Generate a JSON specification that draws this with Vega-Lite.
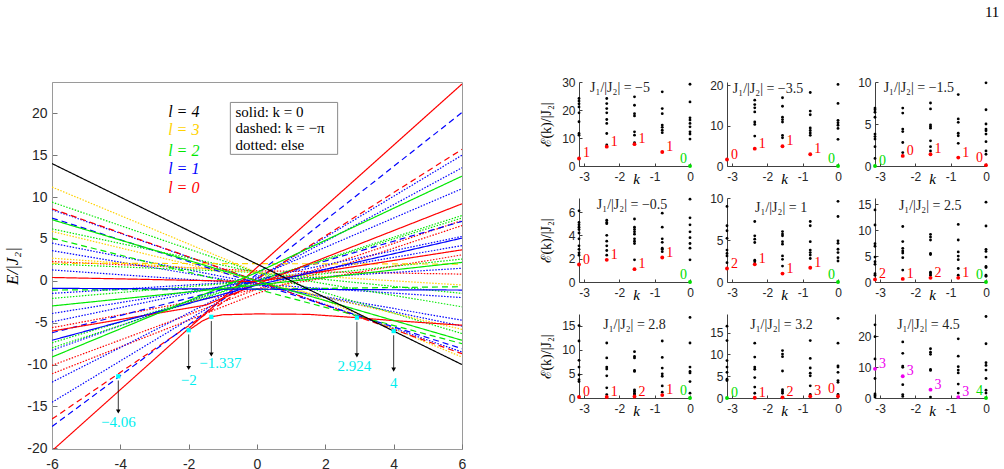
{
"$schema": "https://vega.github.io/schema/vega-lite/v6.json",
"padding": {"left": 2, "top": 5, "right": 0, "bottom": 0},
"title": {"text": "11", "anchor": "end", "frame": "bounds", "font": "Liberation Serif", "fontSize": 15, "fontWeight": "normal", "offset": 56, "dx": 10, "color": "#000000"},
"bounds": "flush",
"spacing": 117,
"resolve": {"scale": {"color": "independent"}},
"datasets": {
"lines": [
{"id":"d1","l":0,"s":"dotted","x":-6,"E":2.3},{"id":"d1","l":0,"s":"dotted","x":0,"E":1.2},{"id":"d1","l":0,"s":"dotted","x":6,"E":0.8},
{"id":"d2","l":0,"s":"dotted","x":-6,"E":-5.6},{"id":"d2","l":0,"s":"dotted","x":0,"E":-1},{"id":"d2","l":0,"s":"dotted","x":6,"E":3.1},
{"id":"d3","l":0,"s":"dotted","x":-6,"E":-10.1},{"id":"d3","l":0,"s":"dotted","x":0,"E":-1},{"id":"d3","l":0,"s":"dotted","x":6,"E":7.2},
{"id":"d4","l":0,"s":"dotted","x":-6,"E":-11.1},{"id":"d4","l":0,"s":"dotted","x":0,"E":-1.5},{"id":"d4","l":0,"s":"dotted","x":6,"E":6.6},
{"id":"d5","l":1,"s":"dotted","x":-6,"E":8.5},{"id":"d5","l":1,"s":"dotted","x":0,"E":0},{"id":"d5","l":1,"s":"dotted","x":6,"E":-8.5},
{"id":"d6","l":1,"s":"dotted","x":-6,"E":4.5},{"id":"d6","l":1,"s":"dotted","x":0,"E":-0.3},{"id":"d6","l":1,"s":"dotted","x":6,"E":-5.4},
{"id":"d7","l":1,"s":"dotted","x":-6,"E":3.6},{"id":"d7","l":1,"s":"dotted","x":0,"E":-0.5},{"id":"d7","l":1,"s":"dotted","x":6,"E":-4.7},
{"id":"d8","l":1,"s":"dotted","x":-6,"E":1.3},{"id":"d8","l":1,"s":"dotted","x":0,"E":-0.4},{"id":"d8","l":1,"s":"dotted","x":6,"E":-2.0},
{"id":"d9","l":1,"s":"dotted","x":-6,"E":-1.5},{"id":"d9","l":1,"s":"dotted","x":0,"E":0},{"id":"d9","l":1,"s":"dotted","x":6,"E":1.5},
{"id":"d10","l":1,"s":"dotted","x":-6,"E":-3.9},{"id":"d10","l":1,"s":"dotted","x":0,"E":0},{"id":"d10","l":1,"s":"dotted","x":6,"E":4.2},
{"id":"d11","l":1,"s":"dotted","x":-6,"E":-4.9},{"id":"d11","l":1,"s":"dotted","x":0,"E":0.2},{"id":"d11","l":1,"s":"dotted","x":6,"E":5.3},
{"id":"d12","l":1,"s":"dotted","x":-6,"E":-8.3},{"id":"d12","l":1,"s":"dotted","x":0,"E":0.5},{"id":"d12","l":1,"s":"dotted","x":6,"E":11.0},
{"id":"d13","l":1,"s":"dotted","x":-6,"E":-12.1},{"id":"d13","l":1,"s":"dotted","x":0,"E":0.3},{"id":"d13","l":1,"s":"dotted","x":6,"E":13.5},
{"id":"d14","l":1,"s":"dotted","x":-6,"E":-14.5},{"id":"d14","l":1,"s":"dotted","x":0,"E":0.3},{"id":"d14","l":1,"s":"dotted","x":6,"E":15.0},
{"id":"d15","l":2,"s":"dotted","x":-6,"E":9.4},{"id":"d15","l":2,"s":"dotted","x":0,"E":1},{"id":"d15","l":2,"s":"dotted","x":6,"E":-6.3},
{"id":"d16","l":2,"s":"dotted","x":-6,"E":6.2},{"id":"d16","l":2,"s":"dotted","x":0,"E":1},{"id":"d16","l":2,"s":"dotted","x":6,"E":-3.1},
{"id":"d17","l":2,"s":"dotted","x":-6,"E":2.0},{"id":"d17","l":2,"s":"dotted","x":0,"E":1},{"id":"d17","l":2,"s":"dotted","x":6,"E":-1.5},
{"id":"d18","l":2,"s":"dotted","x":-6,"E":-2.1},{"id":"d18","l":2,"s":"dotted","x":0,"E":0},{"id":"d18","l":2,"s":"dotted","x":6,"E":2.6},
{"id":"d19","l":2,"s":"dotted","x":-6,"E":-7.4},{"id":"d19","l":2,"s":"dotted","x":0,"E":0},{"id":"d19","l":2,"s":"dotted","x":6,"E":7.5},
{"id":"d20","l":2,"s":"dotted","x":-6,"E":-8.0},{"id":"d20","l":2,"s":"dotted","x":0,"E":0},{"id":"d20","l":2,"s":"dotted","x":6,"E":7.8},
{"id":"d21","l":3,"s":"dotted","x":-6,"E":11.2},{"id":"d21","l":3,"s":"dotted","x":0,"E":1},{"id":"d21","l":3,"s":"dotted","x":6,"E":-9.1},
{"id":"d22","l":3,"s":"dotted","x":-6,"E":5.9},{"id":"d22","l":3,"s":"dotted","x":0,"E":0},{"id":"d22","l":3,"s":"dotted","x":6,"E":-5.8},
{"id":"d23","l":3,"s":"dotted","x":-6,"E":2.7},{"id":"d23","l":3,"s":"dotted","x":0,"E":1},{"id":"d23","l":3,"s":"dotted","x":6,"E":-0.5},
{"id":"s1","l":0,"s":"dashed","x":-6,"E":8.6},{"id":"s1","l":0,"s":"dashed","x":0,"E":0},{"id":"s1","l":0,"s":"dashed","x":6,"E":-8.7},
{"id":"s2","l":0,"s":"dashed","x":-6,"E":-16.5},{"id":"s2","l":0,"s":"dashed","x":0,"E":0.2},{"id":"s2","l":0,"s":"dashed","x":6,"E":15.7},
{"id":"s3","l":1,"s":"dashed","x":-6,"E":7.5},{"id":"s3","l":1,"s":"dashed","x":0,"E":-0.3},{"id":"s3","l":1,"s":"dashed","x":6,"E":-8.1},
{"id":"s4","l":1,"s":"dashed","x":-6,"E":-17.4},{"id":"s4","l":1,"s":"dashed","x":0,"E":0.8},{"id":"s4","l":1,"s":"dashed","x":6,"E":20.1},
{"id":"s5","l":1,"s":"dashed","x":-6,"E":-6.2},{"id":"s5","l":1,"s":"dashed","x":0,"E":0},{"id":"s5","l":1,"s":"dashed","x":6,"E":7.1},
{"id":"s6","l":2,"s":"dashed","x":-6,"E":5.1},{"id":"s6","l":2,"s":"dashed","x":0,"E":-1},{"id":"s6","l":2,"s":"dashed","x":6,"E":-7.5},
{"id":"s7","l":2,"s":"dashed","x":-6,"E":-1.1},{"id":"s7","l":2,"s":"dashed","x":0,"E":-1.0},{"id":"s7","l":2,"s":"dashed","x":6,"E":-0.7},
{"id":"s8","l":3,"s":"dashed","x":-6,"E":2.1},{"id":"s8","l":3,"s":"dashed","x":6,"E":2.0},
{"id":"t1","l":0,"s":"solid","x":-6,"E":-20.3},{"id":"t1","l":0,"s":"solid","x":0,"E":1.6},{"id":"t1","l":0,"s":"solid","x":6,"E":23.5},
{"id":"t2","l":0,"s":"solid","x":-2,"E":-5.9},{"id":"t2","l":0,"s":"solid","x":-1.6,"E":-4.8},{"id":"t2","l":0,"s":"solid","x":-1.337,"E":-4.3},{"id":"t2","l":0,"s":"solid","x":-1,"E":-4.05},{"id":"t2","l":0,"s":"solid","x":0,"E":-3.95},{"id":"t2","l":0,"s":"solid","x":1.5,"E":-4.0},{"id":"t2","l":0,"s":"solid","x":2.924,"E":-4.4},{"id":"t2","l":0,"s":"solid","x":4,"E":-4.75},{"id":"t2","l":0,"s":"solid","x":6,"E":-5.3},
{"id":"t3","l":0,"s":"solid","x":-6,"E":0.4},{"id":"t3","l":0,"s":"solid","x":0,"E":-0.1},{"id":"t3","l":0,"s":"solid","x":6,"E":3.7},
{"id":"t4","l":0,"s":"solid","x":-6,"E":-6.0},{"id":"t4","l":0,"s":"solid","x":-1.5,"E":-2.9},{"id":"t4","l":0,"s":"solid","x":0,"E":-0.4},{"id":"t4","l":0,"s":"solid","x":6,"E":9.2},
{"id":"t5","l":1,"s":"solid","x":-6,"E":-0.9},{"id":"t5","l":1,"s":"solid","x":6,"E":-1.1},
{"id":"t6","l":1,"s":"solid","x":-6,"E":-7.1},{"id":"t6","l":1,"s":"solid","x":0,"E":-0.5},{"id":"t6","l":1,"s":"solid","x":6,"E":5.1},
{"id":"t7","l":2,"s":"solid","x":-6,"E":7.3},{"id":"t7","l":2,"s":"solid","x":0,"E":0},{"id":"t7","l":2,"s":"solid","x":6,"E":-7.1},
{"id":"t8","l":2,"s":"solid","x":-6,"E":-3.0},{"id":"t8","l":2,"s":"solid","x":0,"E":-0.5},{"id":"t8","l":2,"s":"solid","x":6,"E":2.2},
{"id":"t9","l":2,"s":"solid","x":-6,"E":-9.1},{"id":"t9","l":2,"s":"solid","x":0,"E":1},{"id":"t9","l":2,"s":"solid","x":6,"E":12.5},
{"id":"t10","l":4,"s":"solid","x":-6,"E":14},{"id":"t10","l":4,"s":"solid","x":6,"E":-10}
],
"mk": [{"x":-4.06,"E":-11.4},{"x":-2,"E":-5.9},{"x":-1.337,"E":-4.3},{"x":2.924,"E":-4.4},{"x":4,"E":-6.0}],
"arr": [{"x":-4.06,"E":-11.9,"E2":-15.6},{"x":-2,"E":-6.4,"E2":-10.4},{"x":-1.337,"E":-4.8,"E2":-8.8},{"x":2.924,"E":-4.9,"E2":-8.9},{"x":4,"E":-6.5,"E2":-10.6}],
"alab": [{"x":-4.06,"E":-16.9,"t":"−4.06"},{"x":-2,"E":-11.8,"t":"−2"},{"x":-1.07,"E":-9.8,"t":"−1.337"},{"x":2.85,"E":-10.2,"t":"2.924"},{"x":4,"E":-12.2,"t":"4"}],
"leg": [{"x":-2.6,"E":20.2,"t":"l = 4","l":4},{"x":-2.6,"E":18.0,"t":"l = 3","l":3},{"x":-2.6,"E":15.5,"t":"l = 2","l":2},{"x":-2.6,"E":13.3,"t":"l = 1","l":1},{"x":-2.6,"E":11.1,"t":"l = 0","l":0}],
"box": [{"x":-0.78,"x2":2.36,"E":15.1,"E2":21.3}],
"btxt": [{"x":-0.63,"E":20.2,"t":"solid:  k = 0"},{"x":-0.63,"E":18.2,"t":"dashed:  k = −π"},{"x":-0.63,"E":16.2,"t":"dotted:  else"}],
"ttl": [
{"p":1,"k":-1.98,"E":27.9,"t":"J₁/|J₂| = −5"},
{"p":2,"k":-1.98,"E":19.1,"t":"J₁/|J₂| = −3.5"},
{"p":3,"k":-1.9,"E":9.3,"t":"J₁/|J₂| = −1.5"},
{"p":4,"k":-1.64,"E":6.6,"t":"J₁/|J₂| = −0.5"},
{"p":5,"k":-1.61,"E":8.8,"t":"J₁/|J₂| = 1"},
{"p":6,"k":-1.58,"E":14.7,"t":"J₁/|J₂| = 2.5"},
{"p":7,"k":-1.57,"E":15.1,"t":"J₁/|J₂| = 2.8"},
{"p":8,"k":-1.6,"E":16.8,"t":"J₁/|J₂| = 3.2"},
{"p":9,"k":-1.63,"E":23.5,"t":"J₁/|J₂| = 4.5"}
],
"pts": [
{"p":1,"k":-3.1416,"E":24.1},{"p":1,"k":-3.1416,"E":23.2},{"p":1,"k":-3.1416,"E":22.2},{"p":1,"k":-3.1416,"E":21.1},{"p":1,"k":-3.1416,"E":19.0},{"p":1,"k":-3.1416,"E":15.8},{"p":1,"k":-3.1416,"E":11.6},{"p":1,"k":-3.1416,"E":11.0},{"p":1,"k":-3.1416,"E":2.7,"c":"r","lab":"1"},
{"p":1,"k":-2.3562,"E":24.1},{"p":1,"k":-2.3562,"E":22.3},{"p":1,"k":-2.3562,"E":20.5},{"p":1,"k":-2.3562,"E":19.0},{"p":1,"k":-2.3562,"E":16.6},{"p":1,"k":-2.3562,"E":15.2},{"p":1,"k":-2.3562,"E":11.6},{"p":1,"k":-2.3562,"E":7.5},{"p":1,"k":-2.3562,"E":6.9,"c":"r","lab":"1"},
{"p":1,"k":-1.5708,"E":24.7},{"p":1,"k":-1.5708,"E":21.7},{"p":1,"k":-1.5708,"E":18.7},{"p":1,"k":-1.5708,"E":17.9},{"p":1,"k":-1.5708,"E":12.2},{"p":1,"k":-1.5708,"E":11.0},{"p":1,"k":-1.5708,"E":8.3},{"p":1,"k":-1.5708,"E":7.8,"c":"r","lab":"1"},
{"p":1,"k":-0.7854,"E":26.5},{"p":1,"k":-0.7854,"E":20.5},{"p":1,"k":-0.7854,"E":18.7},{"p":1,"k":-0.7854,"E":14.6},{"p":1,"k":-0.7854,"E":13.8},{"p":1,"k":-0.7854,"E":12.8},{"p":1,"k":-0.7854,"E":11.9},{"p":1,"k":-0.7854,"E":5.0,"c":"r","lab":"1"},
{"p":1,"k":0,"E":29.2},{"p":1,"k":0,"E":22.9},{"p":1,"k":0,"E":17.2},{"p":1,"k":0,"E":16.4},{"p":1,"k":0,"E":15.2},{"p":1,"k":0,"E":14.0},{"p":1,"k":0,"E":12.2},{"p":1,"k":0,"E":11.4},{"p":1,"k":0,"E":9.6},{"p":1,"k":0,"E":0,"c":"g","lab":"0"},
{"p":2,"k":-3.1416,"E":1.6,"c":"r","lab":"0"},
{"p":2,"k":-2.3562,"E":16.3},{"p":2,"k":-2.3562,"E":15.2},{"p":2,"k":-2.3562,"E":14.4},{"p":2,"k":-2.3562,"E":13.4},{"p":2,"k":-2.3562,"E":10.9},{"p":2,"k":-2.3562,"E":10.3},{"p":2,"k":-2.3562,"E":7.4},{"p":2,"k":-2.3562,"E":4.3,"c":"r","lab":"1"},
{"p":2,"k":-1.5708,"E":16.9},{"p":2,"k":-1.5708,"E":14.8},{"p":2,"k":-1.5708,"E":12.1},{"p":2,"k":-1.5708,"E":11.5},{"p":2,"k":-1.5708,"E":10.9},{"p":2,"k":-1.5708,"E":7.6},{"p":2,"k":-1.5708,"E":7.0},{"p":2,"k":-1.5708,"E":4.9,"c":"r","lab":"1"},
{"p":2,"k":-0.7854,"E":18.2},{"p":2,"k":-0.7854,"E":13.6},{"p":2,"k":-0.7854,"E":12.7},{"p":2,"k":-0.7854,"E":9.4},{"p":2,"k":-0.7854,"E":8.8},{"p":2,"k":-0.7854,"E":8.2},{"p":2,"k":-0.7854,"E":7.6},{"p":2,"k":-0.7854,"E":2.9,"c":"r","lab":"1"},
{"p":2,"k":0,"E":20.2},{"p":2,"k":0,"E":15.5},{"p":2,"k":0,"E":11.3},{"p":2,"k":0,"E":10.7},{"p":2,"k":0,"E":10.1},{"p":2,"k":0,"E":9.3},{"p":2,"k":0,"E":6.6},{"p":2,"k":0,"E":0,"c":"g","lab":"0"},
{"p":3,"k":-3.1416,"E":6.9},{"p":3,"k":-3.1416,"E":6.7},{"p":3,"k":-3.1416,"E":6.4},{"p":3,"k":-3.1416,"E":5.8},{"p":3,"k":-3.1416,"E":3.8},{"p":3,"k":-3.1416,"E":3.5},{"p":3,"k":-3.1416,"E":3.2},{"p":3,"k":-3.1416,"E":2.3},{"p":3,"k":-3.1416,"E":0.9},{"p":3,"k":-3.1416,"E":0,"c":"g","lab":"0"},
{"p":3,"k":-2.3562,"E":6.9},{"p":3,"k":-2.3562,"E":6.3},{"p":3,"k":-2.3562,"E":4.4},{"p":3,"k":-2.3562,"E":4.1},{"p":3,"k":-2.3562,"E":2.8},{"p":3,"k":-2.3562,"E":1.6},{"p":3,"k":-2.3562,"E":1.2,"c":"r","lab":"0"},
{"p":3,"k":-1.5708,"E":7.5},{"p":3,"k":-1.5708,"E":6.8},{"p":3,"k":-1.5708,"E":4.9},{"p":3,"k":-1.5708,"E":4.7},{"p":3,"k":-1.5708,"E":4.5},{"p":3,"k":-1.5708,"E":3.0},{"p":3,"k":-1.5708,"E":2.3},{"p":3,"k":-1.5708,"E":1.8},{"p":3,"k":-1.5708,"E":1.4,"c":"r","lab":"1"},
{"p":3,"k":-0.7854,"E":8.5},{"p":3,"k":-0.7854,"E":5.6},{"p":3,"k":-0.7854,"E":5.2},{"p":3,"k":-0.7854,"E":3.9},{"p":3,"k":-0.7854,"E":3.6},{"p":3,"k":-0.7854,"E":2.7},{"p":3,"k":-0.7854,"E":1.0,"c":"r","lab":"1"},
{"p":3,"k":0,"E":9.9},{"p":3,"k":0,"E":6.7},{"p":3,"k":0,"E":5.0},{"p":3,"k":0,"E":4.4},{"p":3,"k":0,"E":4.2},{"p":3,"k":0,"E":3.8},{"p":3,"k":0,"E":2.9},{"p":3,"k":0,"E":1.8},{"p":3,"k":0,"E":1.4},{"p":3,"k":0,"E":0.1,"c":"r","lab":"0"},
{"p":4,"k":-3.1416,"E":6.1},{"p":4,"k":-3.1416,"E":5.1},{"p":4,"k":-3.1416,"E":4.9},{"p":4,"k":-3.1416,"E":4.7},{"p":4,"k":-3.1416,"E":4.5},{"p":4,"k":-3.1416,"E":4.2},{"p":4,"k":-3.1416,"E":3.7},{"p":4,"k":-3.1416,"E":3.1},{"p":4,"k":-3.1416,"E":2.8},{"p":4,"k":-3.1416,"E":2.5},{"p":4,"k":-3.1416,"E":2.3},{"p":4,"k":-3.1416,"E":1.5,"c":"r","lab":"0"},
{"p":4,"k":-2.3562,"E":5.3},{"p":4,"k":-2.3562,"E":5.1},{"p":4,"k":-2.3562,"E":5.0},{"p":4,"k":-2.3562,"E":4.0},{"p":4,"k":-2.3562,"E":3.5},{"p":4,"k":-2.3562,"E":3.1},{"p":4,"k":-2.3562,"E":2.7},{"p":4,"k":-2.3562,"E":2.3},{"p":4,"k":-2.3562,"E":1.9,"c":"r","lab":"1"},
{"p":4,"k":-1.5708,"E":5.4},{"p":4,"k":-1.5708,"E":4.7},{"p":4,"k":-1.5708,"E":4.5},{"p":4,"k":-1.5708,"E":4.3},{"p":4,"k":-1.5708,"E":4.1},{"p":4,"k":-1.5708,"E":3.7},{"p":4,"k":-1.5708,"E":3.5},{"p":4,"k":-1.5708,"E":3.3},{"p":4,"k":-1.5708,"E":1.9},{"p":4,"k":-1.5708,"E":1.1,"c":"r","lab":"1"},
{"p":4,"k":-0.7854,"E":5.9},{"p":4,"k":-0.7854,"E":4.7},{"p":4,"k":-0.7854,"E":3.7},{"p":4,"k":-0.7854,"E":3.4},{"p":4,"k":-0.7854,"E":2.9},{"p":4,"k":-0.7854,"E":2.8},{"p":4,"k":-0.7854,"E":2.6},{"p":4,"k":-0.7854,"E":2.1,"c":"r","lab":"1"},
{"p":4,"k":0,"E":7.1},{"p":4,"k":0,"E":5.5},{"p":4,"k":0,"E":4.9},{"p":4,"k":0,"E":4.3},{"p":4,"k":0,"E":3.8},{"p":4,"k":0,"E":3.3},{"p":4,"k":0,"E":2.9},{"p":4,"k":0,"E":1.9},{"p":4,"k":0,"E":0,"c":"g","lab":"0"},
{"p":5,"k":-3.1416,"E":9.0},{"p":5,"k":-3.1416,"E":6.7},{"p":5,"k":-3.1416,"E":6.1},{"p":5,"k":-3.1416,"E":5.2},{"p":5,"k":-3.1416,"E":3.8},{"p":5,"k":-3.1416,"E":3.4},{"p":5,"k":-3.1416,"E":3.1},{"p":5,"k":-3.1416,"E":2.3},{"p":5,"k":-3.1416,"E":1.6,"c":"r","lab":"2"},
{"p":5,"k":-2.3562,"E":7.2},{"p":5,"k":-2.3562,"E":5.5},{"p":5,"k":-2.3562,"E":5.1},{"p":5,"k":-2.3562,"E":4.7},{"p":5,"k":-2.3562,"E":2.6},{"p":5,"k":-2.3562,"E":2.4},{"p":5,"k":-2.3562,"E":2.1,"c":"r","lab":"1"},
{"p":5,"k":-1.5708,"E":6.0},{"p":5,"k":-1.5708,"E":5.7},{"p":5,"k":-1.5708,"E":5.5},{"p":5,"k":-1.5708,"E":4.8},{"p":5,"k":-1.5708,"E":4.5},{"p":5,"k":-1.5708,"E":3.1},{"p":5,"k":-1.5708,"E":2.7},{"p":5,"k":-1.5708,"E":1.9},{"p":5,"k":-1.5708,"E":1.0,"c":"r","lab":"1"},
{"p":5,"k":-0.7854,"E":7.2},{"p":5,"k":-0.7854,"E":6.7},{"p":5,"k":-0.7854,"E":4.8},{"p":5,"k":-0.7854,"E":3.8},{"p":5,"k":-0.7854,"E":3.5},{"p":5,"k":-0.7854,"E":3.2},{"p":5,"k":-0.7854,"E":2.8},{"p":5,"k":-0.7854,"E":1.7,"c":"r","lab":"1"},
{"p":5,"k":0,"E":9.6},{"p":5,"k":0,"E":7.8},{"p":5,"k":0,"E":4.9},{"p":5,"k":0,"E":4.6},{"p":5,"k":0,"E":3.9},{"p":5,"k":0,"E":3.5},{"p":5,"k":0,"E":2.9},{"p":5,"k":0,"E":2.5},{"p":5,"k":0,"E":0,"c":"g","lab":"0"},
{"p":6,"k":-3.1416,"E":13.9},{"p":6,"k":-3.1416,"E":11.0},{"p":6,"k":-3.1416,"E":7.4},{"p":6,"k":-3.1416,"E":6.9},{"p":6,"k":-3.1416,"E":4.8},{"p":6,"k":-3.1416,"E":3.9},{"p":6,"k":-3.1416,"E":3.4},{"p":6,"k":-3.1416,"E":1.6},{"p":6,"k":-3.1416,"E":1.3},{"p":6,"k":-3.1416,"E":0.5,"c":"r","lab":"2"},
{"p":6,"k":-2.3562,"E":10.7},{"p":6,"k":-2.3562,"E":7.8},{"p":6,"k":-2.3562,"E":6.5},{"p":6,"k":-2.3562,"E":6.0},{"p":6,"k":-2.3562,"E":5.6},{"p":6,"k":-2.3562,"E":4.7},{"p":6,"k":-2.3562,"E":2.3},{"p":6,"k":-2.3562,"E":0.6,"c":"r","lab":"1"},
{"p":6,"k":-1.5708,"E":9.2},{"p":6,"k":-1.5708,"E":8.7},{"p":6,"k":-1.5708,"E":8.1},{"p":6,"k":-1.5708,"E":5.5},{"p":6,"k":-1.5708,"E":5.3},{"p":6,"k":-1.5708,"E":1.9},{"p":6,"k":-1.5708,"E":1.6},{"p":6,"k":-1.5708,"E":1.3},{"p":6,"k":-1.5708,"E":0.8,"c":"r","lab":"2"},
{"p":6,"k":-0.7854,"E":11.1},{"p":6,"k":-0.7854,"E":8.1},{"p":6,"k":-0.7854,"E":5.8},{"p":6,"k":-0.7854,"E":5.0},{"p":6,"k":-0.7854,"E":4.3},{"p":6,"k":-0.7854,"E":2.6},{"p":6,"k":-0.7854,"E":1.3},{"p":6,"k":-0.7854,"E":0.8,"c":"r","lab":"1"},
{"p":6,"k":0,"E":15.4},{"p":6,"k":0,"E":10.8},{"p":6,"k":0,"E":6.3},{"p":6,"k":0,"E":5.9},{"p":6,"k":0,"E":4.8},{"p":6,"k":0,"E":3.0},{"p":6,"k":0,"E":2.8},{"p":6,"k":0,"E":1.3},{"p":6,"k":0,"E":1.1},{"p":6,"k":0,"E":0,"c":"g","lab":"0"},
{"p":7,"k":-3.1416,"E":15.0},{"p":7,"k":-3.1416,"E":11.8},{"p":7,"k":-3.1416,"E":7.8},{"p":7,"k":-3.1416,"E":6.4},{"p":7,"k":-3.1416,"E":4.8},{"p":7,"k":-3.1416,"E":3.8},{"p":7,"k":-3.1416,"E":3.4},{"p":7,"k":-3.1416,"E":0.2,"c":"r","lab":"0"},
{"p":7,"k":-2.3562,"E":11.4},{"p":7,"k":-2.3562,"E":8.3},{"p":7,"k":-2.3562,"E":6.4},{"p":7,"k":-2.3562,"E":6.0},{"p":7,"k":-2.3562,"E":4.6},{"p":7,"k":-2.3562,"E":2.1},{"p":7,"k":-2.3562,"E":0.7},{"p":7,"k":-2.3562,"E":0.2,"c":"r","lab":"1"},
{"p":7,"k":-1.5708,"E":9.6},{"p":7,"k":-1.5708,"E":8.6},{"p":7,"k":-1.5708,"E":8.3},{"p":7,"k":-1.5708,"E":5.7},{"p":7,"k":-1.5708,"E":5.5},{"p":7,"k":-1.5708,"E":1.7},{"p":7,"k":-1.5708,"E":1.4},{"p":7,"k":-1.5708,"E":1.0},{"p":7,"k":-1.5708,"E":0.7},{"p":7,"k":-1.5708,"E":0.3,"c":"r","lab":"2"},
{"p":7,"k":-0.7854,"E":11.8},{"p":7,"k":-0.7854,"E":8.4},{"p":7,"k":-0.7854,"E":6.2},{"p":7,"k":-0.7854,"E":5.0},{"p":7,"k":-0.7854,"E":4.5},{"p":7,"k":-0.7854,"E":2.5},{"p":7,"k":-0.7854,"E":1.2},{"p":7,"k":-0.7854,"E":0.6,"c":"r","lab":"1"},
{"p":7,"k":0,"E":16.7},{"p":7,"k":0,"E":11.4},{"p":7,"k":0,"E":6.4},{"p":7,"k":0,"E":5.5},{"p":7,"k":0,"E":5.2},{"p":7,"k":0,"E":3.4},{"p":7,"k":0,"E":1.0},{"p":7,"k":0,"E":0,"c":"g","lab":"0"},
{"p":8,"k":-3.1416,"E":16.5},{"p":8,"k":-3.1416,"E":13.2},{"p":8,"k":-3.1416,"E":8.6},{"p":8,"k":-3.1416,"E":7.1},{"p":8,"k":-3.1416,"E":5.9},{"p":8,"k":-3.1416,"E":4.3},{"p":8,"k":-3.1416,"E":4.0},{"p":8,"k":-3.1416,"E":0,"c":"g","lab":"0"},
{"p":8,"k":-2.3562,"E":12.6},{"p":8,"k":-2.3562,"E":9.4},{"p":8,"k":-2.3562,"E":7.1},{"p":8,"k":-2.3562,"E":6.6},{"p":8,"k":-2.3562,"E":4.7},{"p":8,"k":-2.3562,"E":2.5},{"p":8,"k":-2.3562,"E":1.1},{"p":8,"k":-2.3562,"E":0.05,"c":"r","lab":"1"},
{"p":8,"k":-1.5708,"E":10.9},{"p":8,"k":-1.5708,"E":10.1},{"p":8,"k":-1.5708,"E":9.5},{"p":8,"k":-1.5708,"E":6.2},{"p":8,"k":-1.5708,"E":1.9},{"p":8,"k":-1.5708,"E":1.5},{"p":8,"k":-1.5708,"E":1.1},{"p":8,"k":-1.5708,"E":0.15,"c":"r","lab":"2"},
{"p":8,"k":-0.7854,"E":13.2},{"p":8,"k":-0.7854,"E":9.1},{"p":8,"k":-0.7854,"E":6.9},{"p":8,"k":-0.7854,"E":5.7},{"p":8,"k":-0.7854,"E":5.1},{"p":8,"k":-0.7854,"E":2.8},{"p":8,"k":-0.7854,"E":0.8},{"p":8,"k":-0.7854,"E":0.4,"c":"r","lab":"3"},
{"p":8,"k":0,"E":18.3},{"p":8,"k":0,"E":12.6},{"p":8,"k":0,"E":7.4},{"p":8,"k":0,"E":7.1},{"p":8,"k":0,"E":5.9},{"p":8,"k":0,"E":4.0},{"p":8,"k":0,"E":3.6},{"p":8,"k":0,"E":0.8},{"p":8,"k":0,"E":0.4,"c":"r","lab":"0"},
{"p":9,"k":-3.1416,"E":23.6},{"p":9,"k":-3.1416,"E":19.8},{"p":9,"k":-3.1416,"E":12.6},{"p":9,"k":-3.1416,"E":6.3},{"p":9,"k":-3.1416,"E":1.3},{"p":9,"k":-3.1416,"E":0.8},{"p":9,"k":-3.1416,"E":0.3},{"p":9,"k":-3.1416,"E":9.4,"c":"m","lab":"3"},
{"p":9,"k":-2.3562,"E":18.1},{"p":9,"k":-2.3562,"E":14.4},{"p":9,"k":-2.3562,"E":10.3},{"p":9,"k":-2.3562,"E":9.9},{"p":9,"k":-2.3562,"E":4.3},{"p":9,"k":-2.3562,"E":1.1},{"p":9,"k":-2.3562,"E":0.5},{"p":9,"k":-2.3562,"E":7.0,"c":"m","lab":"3"},
{"p":9,"k":-1.5708,"E":15.9},{"p":9,"k":-1.5708,"E":14.8},{"p":9,"k":-1.5708,"E":14.1},{"p":9,"k":-1.5708,"E":9.2},{"p":9,"k":-1.5708,"E":8.9},{"p":9,"k":-1.5708,"E":0.3},{"p":9,"k":-1.5708,"E":2.7,"c":"m","lab":"3"},
{"p":9,"k":-0.7854,"E":19.1},{"p":9,"k":-0.7854,"E":13.5},{"p":9,"k":-0.7854,"E":10.1},{"p":9,"k":-0.7854,"E":9.0},{"p":9,"k":-0.7854,"E":8.1},{"p":9,"k":-0.7854,"E":4.5},{"p":9,"k":-0.7854,"E":1.6},{"p":9,"k":-0.7854,"E":0.3,"c":"m","lab":"3"},
{"p":9,"k":0,"E":26.3},{"p":9,"k":0,"E":17.5},{"p":9,"k":0,"E":11.4},{"p":9,"k":0,"E":10.5},{"p":9,"k":0,"E":9.0},{"p":9,"k":0,"E":6.3},{"p":9,"k":0,"E":2.5},{"p":9,"k":0,"E":1.6},{"p":9,"k":0,"E":0,"c":"g","lab":"4"}
]
},
"hconcat": [
{
"width": 410, "height": 367,
"view": {"stroke": "#9a9a9a", "strokeWidth": 1},
"encoding": {
"x": {"field": "x", "type": "quantitative", "scale": {"domain": [-6, 6], "nice": false, "zero": false},
 "axis": {"values": [-6,-4,-2,0,2,4,6], "title": null, "tickSize": -5, "labelPadding": 13, "labelFontSize": 14, "domainColor": "#9a9a9a", "tickColor": "#777777"}},
"y": {"field": "E", "type": "quantitative", "scale": {"domain": [-20.08, 23.74], "nice": false, "zero": false},
 "axis": {"values": [-20,-15,-10,-5,0,5,10,15,20], "title": "E/|J₂|", "tickSize": -5, "labelPadding": 10, "labelFontSize": 14, "minExtent": 26, "maxExtent": 26, "titlePadding": 5, "titleFontSize": 17, "titleFontStyle": "italic", "domainColor": "#9a9a9a", "tickColor": "#777777"}}
},
"layer": [
{"data": {"name": "lines"}, "mark": {"type": "line", "strokeWidth": 1.2, "clip": true},
 "encoding": {
  "color": {"field": "l", "type": "nominal", "scale": {"domain": [0,1,2,3,4], "range": ["#ff0000","#0000ff","#00e800","#ffd200","#000000"]}, "legend": null},
  "strokeDash": {"field": "s", "type": "nominal", "scale": {"domain": ["solid","dashed","dotted"], "range": [[1,0],[6,4],[1.5,1.5]]}, "legend": null},
  "opacity": {"field": "s", "type": "nominal", "scale": {"domain": ["solid","dashed","dotted"], "range": [1,1,0.6]}, "legend": null},
  "detail": {"field": "id", "type": "nominal"},
  "order": {"field": "x", "type": "quantitative"}}},
{"data": {"name": "arr"}, "mark": {"type": "rule", "color": "#000000", "strokeWidth": 0.8}, "encoding": {"y2": {"field": "E2"}}},
{"data": {"name": "arr"}, "mark": {"type": "point", "shape": "triangle-down", "filled": true, "color": "#000000", "size": 22, "opacity": 1}, "encoding": {"y": {"field": "E2", "type": "quantitative"}}},
{"data": {"name": "mk"}, "mark": {"type": "square", "color": "#00ffff", "size": 18, "opacity": 1}},
{"data": {"name": "alab"}, "mark": {"type": "text", "font": "Liberation Serif", "fontSize": 15, "color": "#00eeee", "align": "center", "baseline": "middle"}, "encoding": {"text": {"field": "t"}}},
{"data": {"name": "leg"}, "mark": {"type": "text", "font": "Liberation Serif", "fontSize": 16, "fontStyle": "italic", "align": "left", "baseline": "middle"}, "encoding": {"text": {"field": "t"}, "color": {"field": "l", "type": "nominal", "legend": null}}},
{"data": {"name": "box"}, "mark": {"type": "rect", "fill": "#ffffff", "stroke": "#8a8a8a", "strokeWidth": 1}, "encoding": {"x2": {"field": "x2"}, "y2": {"field": "E2"}}},
{"data": {"name": "btxt"}, "mark": {"type": "text", "font": "Liberation Serif", "fontSize": 15, "align": "left", "baseline": "middle", "color": "#000000"}, "encoding": {"text": {"field": "t"}}}
]
},
{
"columns": 3,
"spacing": {"row": 32, "column": 37},
"bounds": "flush",
"concat": [
{"width":111,"height":84,"data":{"name":"pts"},
"encoding":{"x":{"field":"k","type":"quantitative","scale":{"domain":[-3.1416,0],"nice":false,"zero":false},"axis":{"values":[-3,-2,-1,0],"title":"k","titleX":57,"titleY":12,"titleBaseline":"middle","titleFontStyle":"italic","titleFontSize":15,"labelPadding":8}},
"y":{"field":"E","type":"quantitative","scale":{"domain":[0,30],"nice":false,"zero":false},"axis":{"values":[0,10,20,30],"title":"ℰ(k)/|J₂|"}},
"color":{"field":"c","type":"nominal","scale":{"domain":["r","g","m"],"range":["#ff0000","#00dd00","#ee00ee"]},"legend":null}},
"layer":[
{"transform":[{"filter":"datum.p==1 && !datum.c"}],"mark":{"type":"circle","size":8,"color":"#000000","opacity":1},"encoding":{"color":{"value":"#000000"}}},
{"transform":[{"filter":"datum.p==1 && datum.c"}],"mark":{"type":"circle","size":15,"opacity":1}},
{"transform":[{"filter":"datum.p==1 && datum.c && datum.k<0"}],"mark":{"type":"text","align":"left","baseline":"middle","dx":4,"dy":-5,"font":"Liberation Serif","fontSize":14},"encoding":{"text":{"field":"lab"}}},
{"transform":[{"filter":"datum.p==1 && datum.c && datum.k==0"}],"mark":{"type":"text","align":"right","baseline":"middle","dx":-3,"dy":-7,"font":"Liberation Serif","fontSize":14},"encoding":{"text":{"field":"lab"}}},
{"data":{"name":"ttl"},"transform":[{"filter":"datum.p==1"}],"mark":{"type":"text","align":"center","baseline":"middle","font":"Liberation Serif","fontSize":14},"encoding":{"text":{"field":"t"},"color":{"value":"#222222"}}}
]},
{"width":111,"height":84,"data":{"name":"pts"},
"encoding":{"x":{"field":"k","type":"quantitative","scale":{"domain":[-3.1416,0],"nice":false,"zero":false},"axis":{"values":[-3,-2,-1,0],"title":"k","titleX":57,"titleY":12,"titleBaseline":"middle","titleFontStyle":"italic","titleFontSize":15,"labelPadding":8}},
"y":{"field":"E","type":"quantitative","scale":{"domain":[0,20.8],"nice":false,"zero":false},"axis":{"values":[0,10,20],"title":null}},
"color":{"field":"c","type":"nominal","scale":{"domain":["r","g","m"],"range":["#ff0000","#00dd00","#ee00ee"]},"legend":null}},
"layer":[
{"transform":[{"filter":"datum.p==2 && !datum.c"}],"mark":{"type":"circle","size":8,"opacity":1},"encoding":{"color":{"value":"#000000"}}},
{"transform":[{"filter":"datum.p==2 && datum.c"}],"mark":{"type":"circle","size":15,"opacity":1}},
{"transform":[{"filter":"datum.p==2 && datum.c && datum.k<0"}],"mark":{"type":"text","align":"left","baseline":"middle","dx":4,"dy":-5,"font":"Liberation Serif","fontSize":14},"encoding":{"text":{"field":"lab"}}},
{"transform":[{"filter":"datum.p==2 && datum.c && datum.k==0"}],"mark":{"type":"text","align":"right","baseline":"middle","dx":-3,"dy":-7,"font":"Liberation Serif","fontSize":14},"encoding":{"text":{"field":"lab"}}},
{"data":{"name":"ttl"},"transform":[{"filter":"datum.p==2"}],"mark":{"type":"text","align":"center","baseline":"middle","font":"Liberation Serif","fontSize":14},"encoding":{"text":{"field":"t"},"color":{"value":"#222222"}}}
]},
{"width":111,"height":84,"data":{"name":"pts"},
"encoding":{"x":{"field":"k","type":"quantitative","scale":{"domain":[-3.1416,0],"nice":false,"zero":false},"axis":{"values":[-3,-2,-1,0],"title":"k","titleX":57,"titleY":12,"titleBaseline":"middle","titleFontStyle":"italic","titleFontSize":15,"labelPadding":8}},
"y":{"field":"E","type":"quantitative","scale":{"domain":[0,10],"nice":false,"zero":false},"axis":{"values":[0,5,10],"title":null}},
"color":{"field":"c","type":"nominal","scale":{"domain":["r","g","m"],"range":["#ff0000","#00dd00","#ee00ee"]},"legend":null}},
"layer":[
{"transform":[{"filter":"datum.p==3 && !datum.c"}],"mark":{"type":"circle","size":8,"opacity":1},"encoding":{"color":{"value":"#000000"}}},
{"transform":[{"filter":"datum.p==3 && datum.c"}],"mark":{"type":"circle","size":15,"opacity":1}},
{"transform":[{"filter":"datum.p==3 && datum.c && datum.k<0"}],"mark":{"type":"text","align":"left","baseline":"middle","dx":4,"dy":-5,"font":"Liberation Serif","fontSize":14},"encoding":{"text":{"field":"lab"}}},
{"transform":[{"filter":"datum.p==3 && datum.c && datum.k==0"}],"mark":{"type":"text","align":"right","baseline":"middle","dx":-3,"dy":-7,"font":"Liberation Serif","fontSize":14},"encoding":{"text":{"field":"lab"}}},
{"data":{"name":"ttl"},"transform":[{"filter":"datum.p==3"}],"mark":{"type":"text","align":"center","baseline":"middle","font":"Liberation Serif","fontSize":14},"encoding":{"text":{"field":"t"},"color":{"value":"#222222"}}}
]},
{"width":111,"height":84,"data":{"name":"pts"},
"encoding":{"x":{"field":"k","type":"quantitative","scale":{"domain":[-3.1416,0],"nice":false,"zero":false},"axis":{"values":[-3,-2,-1,0],"title":"k","titleX":57,"titleY":12,"titleBaseline":"middle","titleFontStyle":"italic","titleFontSize":15,"labelPadding":8}},
"y":{"field":"E","type":"quantitative","scale":{"domain":[0,7.2],"nice":false,"zero":false},"axis":{"values":[0,2,4,6],"title":"ℰ(k)/|J₂|"}},
"color":{"field":"c","type":"nominal","scale":{"domain":["r","g","m"],"range":["#ff0000","#00dd00","#ee00ee"]},"legend":null}},
"layer":[
{"transform":[{"filter":"datum.p==4 && !datum.c"}],"mark":{"type":"circle","size":8,"opacity":1},"encoding":{"color":{"value":"#000000"}}},
{"transform":[{"filter":"datum.p==4 && datum.c"}],"mark":{"type":"circle","size":15,"opacity":1}},
{"transform":[{"filter":"datum.p==4 && datum.c && datum.k<0"}],"mark":{"type":"text","align":"left","baseline":"middle","dx":4,"dy":-5,"font":"Liberation Serif","fontSize":14},"encoding":{"text":{"field":"lab"}}},
{"transform":[{"filter":"datum.p==4 && datum.c && datum.k==0"}],"mark":{"type":"text","align":"right","baseline":"middle","dx":-3,"dy":-7,"font":"Liberation Serif","fontSize":14},"encoding":{"text":{"field":"lab"}}},
{"data":{"name":"ttl"},"transform":[{"filter":"datum.p==4"}],"mark":{"type":"text","align":"center","baseline":"middle","font":"Liberation Serif","fontSize":14},"encoding":{"text":{"field":"t"},"color":{"value":"#222222"}}}
]},
{"width":111,"height":84,"data":{"name":"pts"},
"encoding":{"x":{"field":"k","type":"quantitative","scale":{"domain":[-3.1416,0],"nice":false,"zero":false},"axis":{"values":[-3,-2,-1,0],"title":"k","titleX":57,"titleY":12,"titleBaseline":"middle","titleFontStyle":"italic","titleFontSize":15,"labelPadding":8}},
"y":{"field":"E","type":"quantitative","scale":{"domain":[0,10],"nice":false,"zero":false},"axis":{"values":[0,5,10],"title":null}},
"color":{"field":"c","type":"nominal","scale":{"domain":["r","g","m"],"range":["#ff0000","#00dd00","#ee00ee"]},"legend":null}},
"layer":[
{"transform":[{"filter":"datum.p==5 && !datum.c"}],"mark":{"type":"circle","size":8,"opacity":1},"encoding":{"color":{"value":"#000000"}}},
{"transform":[{"filter":"datum.p==5 && datum.c"}],"mark":{"type":"circle","size":15,"opacity":1}},
{"transform":[{"filter":"datum.p==5 && datum.c && datum.k<0"}],"mark":{"type":"text","align":"left","baseline":"middle","dx":4,"dy":-5,"font":"Liberation Serif","fontSize":14},"encoding":{"text":{"field":"lab"}}},
{"transform":[{"filter":"datum.p==5 && datum.c && datum.k==0"}],"mark":{"type":"text","align":"right","baseline":"middle","dx":-3,"dy":-7,"font":"Liberation Serif","fontSize":14},"encoding":{"text":{"field":"lab"}}},
{"data":{"name":"ttl"},"transform":[{"filter":"datum.p==5"}],"mark":{"type":"text","align":"center","baseline":"middle","font":"Liberation Serif","fontSize":14},"encoding":{"text":{"field":"t"},"color":{"value":"#222222"}}}
]},
{"width":111,"height":84,"data":{"name":"pts"},
"encoding":{"x":{"field":"k","type":"quantitative","scale":{"domain":[-3.1416,0],"nice":false,"zero":false},"axis":{"values":[-3,-2,-1,0],"title":"k","titleX":57,"titleY":12,"titleBaseline":"middle","titleFontStyle":"italic","titleFontSize":15,"labelPadding":8}},
"y":{"field":"E","type":"quantitative","scale":{"domain":[0,16.2],"nice":false,"zero":false},"axis":{"values":[0,5,10,15],"title":null}},
"color":{"field":"c","type":"nominal","scale":{"domain":["r","g","m"],"range":["#ff0000","#00dd00","#ee00ee"]},"legend":null}},
"layer":[
{"transform":[{"filter":"datum.p==6 && !datum.c"}],"mark":{"type":"circle","size":8,"opacity":1},"encoding":{"color":{"value":"#000000"}}},
{"transform":[{"filter":"datum.p==6 && datum.c"}],"mark":{"type":"circle","size":15,"opacity":1}},
{"transform":[{"filter":"datum.p==6 && datum.c && datum.k<0"}],"mark":{"type":"text","align":"left","baseline":"middle","dx":4,"dy":-5,"font":"Liberation Serif","fontSize":14},"encoding":{"text":{"field":"lab"}}},
{"transform":[{"filter":"datum.p==6 && datum.c && datum.k==0"}],"mark":{"type":"text","align":"right","baseline":"middle","dx":-3,"dy":-7,"font":"Liberation Serif","fontSize":14},"encoding":{"text":{"field":"lab"}}},
{"data":{"name":"ttl"},"transform":[{"filter":"datum.p==6"}],"mark":{"type":"text","align":"center","baseline":"middle","font":"Liberation Serif","fontSize":14},"encoding":{"text":{"field":"t"},"color":{"value":"#222222"}}}
]},
{"width":111,"height":84,"data":{"name":"pts"},
"encoding":{"x":{"field":"k","type":"quantitative","scale":{"domain":[-3.1416,0],"nice":false,"zero":false},"axis":{"values":[-3,-2,-1,0],"title":"k","titleX":57,"titleY":12,"titleBaseline":"middle","titleFontStyle":"italic","titleFontSize":15,"labelPadding":8}},
"y":{"field":"E","type":"quantitative","scale":{"domain":[0,17.4],"nice":false,"zero":false},"axis":{"values":[0,5,10,15],"title":"ℰ(k)/|J₂|"}},
"color":{"field":"c","type":"nominal","scale":{"domain":["r","g","m"],"range":["#ff0000","#00dd00","#ee00ee"]},"legend":null}},
"layer":[
{"transform":[{"filter":"datum.p==7 && !datum.c"}],"mark":{"type":"circle","size":8,"opacity":1},"encoding":{"color":{"value":"#000000"}}},
{"transform":[{"filter":"datum.p==7 && datum.c"}],"mark":{"type":"circle","size":15,"opacity":1}},
{"transform":[{"filter":"datum.p==7 && datum.c && datum.k<0"}],"mark":{"type":"text","align":"left","baseline":"middle","dx":4,"dy":-5,"font":"Liberation Serif","fontSize":14},"encoding":{"text":{"field":"lab"}}},
{"transform":[{"filter":"datum.p==7 && datum.c && datum.k==0"}],"mark":{"type":"text","align":"right","baseline":"middle","dx":-3,"dy":-7,"font":"Liberation Serif","fontSize":14},"encoding":{"text":{"field":"lab"}}},
{"data":{"name":"ttl"},"transform":[{"filter":"datum.p==7"}],"mark":{"type":"text","align":"center","baseline":"middle","font":"Liberation Serif","fontSize":14},"encoding":{"text":{"field":"t"},"color":{"value":"#222222"}}}
]},
{"width":111,"height":84,"data":{"name":"pts"},
"encoding":{"x":{"field":"k","type":"quantitative","scale":{"domain":[-3.1416,0],"nice":false,"zero":false},"axis":{"values":[-3,-2,-1,0],"title":"k","titleX":57,"titleY":12,"titleBaseline":"middle","titleFontStyle":"italic","titleFontSize":15,"labelPadding":8}},
"y":{"field":"E","type":"quantitative","scale":{"domain":[0,19.3],"nice":false,"zero":false},"axis":{"values":[0,5,10,15],"title":null}},
"color":{"field":"c","type":"nominal","scale":{"domain":["r","g","m"],"range":["#ff0000","#00dd00","#ee00ee"]},"legend":null}},
"layer":[
{"transform":[{"filter":"datum.p==8 && !datum.c"}],"mark":{"type":"circle","size":8,"opacity":1},"encoding":{"color":{"value":"#000000"}}},
{"transform":[{"filter":"datum.p==8 && datum.c"}],"mark":{"type":"circle","size":15,"opacity":1}},
{"transform":[{"filter":"datum.p==8 && datum.c && datum.k<0"}],"mark":{"type":"text","align":"left","baseline":"middle","dx":4,"dy":-5,"font":"Liberation Serif","fontSize":14},"encoding":{"text":{"field":"lab"}}},
{"transform":[{"filter":"datum.p==8 && datum.c && datum.k==0"}],"mark":{"type":"text","align":"right","baseline":"middle","dx":-3,"dy":-7,"font":"Liberation Serif","fontSize":14},"encoding":{"text":{"field":"lab"}}},
{"data":{"name":"ttl"},"transform":[{"filter":"datum.p==8"}],"mark":{"type":"text","align":"center","baseline":"middle","font":"Liberation Serif","fontSize":14},"encoding":{"text":{"field":"t"},"color":{"value":"#222222"}}}
]},
{"width":111,"height":84,"data":{"name":"pts"},
"encoding":{"x":{"field":"k","type":"quantitative","scale":{"domain":[-3.1416,0],"nice":false,"zero":false},"axis":{"values":[-3,-2,-1,0],"title":"k","titleX":57,"titleY":12,"titleBaseline":"middle","titleFontStyle":"italic","titleFontSize":15,"labelPadding":8}},
"y":{"field":"E","type":"quantitative","scale":{"domain":[0,27.1],"nice":false,"zero":false},"axis":{"values":[0,10,20],"title":null}},
"color":{"field":"c","type":"nominal","scale":{"domain":["r","g","m"],"range":["#ff0000","#00dd00","#ee00ee"]},"legend":null}},
"layer":[
{"transform":[{"filter":"datum.p==9 && !datum.c"}],"mark":{"type":"circle","size":8,"opacity":1},"encoding":{"color":{"value":"#000000"}}},
{"transform":[{"filter":"datum.p==9 && datum.c"}],"mark":{"type":"circle","size":15,"opacity":1}},
{"transform":[{"filter":"datum.p==9 && datum.c && datum.k<0"}],"mark":{"type":"text","align":"left","baseline":"middle","dx":4,"dy":-5,"font":"Liberation Serif","fontSize":14},"encoding":{"text":{"field":"lab"}}},
{"transform":[{"filter":"datum.p==9 && datum.c && datum.k==0"}],"mark":{"type":"text","align":"right","baseline":"middle","dx":-3,"dy":-7,"font":"Liberation Serif","fontSize":14},"encoding":{"text":{"field":"lab"}}},
{"data":{"name":"ttl"},"transform":[{"filter":"datum.p==9"}],"mark":{"type":"text","align":"center","baseline":"middle","font":"Liberation Serif","fontSize":14},"encoding":{"text":{"field":"t"},"color":{"value":"#222222"}}}
]}
]
}
],
"config": {
"view": {"stroke": null},
"font": "Liberation Sans",
"axis": {"grid": false, "tickSize": -3, "labelFont": "Liberation Sans", "labelFontSize": 12, "labelColor": "#262626", "domainColor": "#404040", "tickColor": "#404040", "labelFlush": false, "labelOverlap": false, "labelExpr": "replace(datum.label, '−', '-')", "titleFont": "Liberation Serif", "titleFontWeight": "normal", "titleColor": "#000000", "titleFontSize": 14},
"axisY": {"labelPadding": 7, "minExtent": 16, "maxExtent": 16, "titlePadding": 10}
}
}
